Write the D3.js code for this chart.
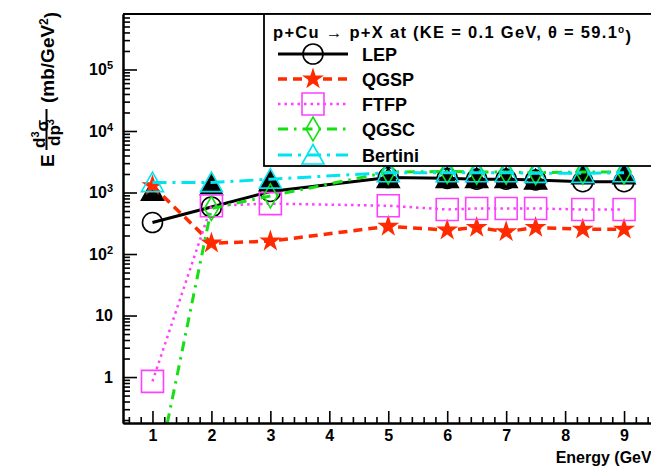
<!DOCTYPE html>
<html>
<head>
<meta charset="utf-8">
<script src="https://cdn.jsdelivr.net/npm/d3@7/dist/d3.min.js"></script>
<style>
  body { margin: 0; background: #fff; }
  svg { display: block; font-family: 'Liberation Sans', Arial, sans-serif; font-weight: bold; }
</style>
</head>
<body>
<div id="chart"></div>
<script>
// Data
var energy       = [1, 2, 3, 5, 6, 6.5, 7, 7.5, 8.3, 9];
var data_vals    = [1050, 1300, 1500, 1700, 1700, 1700, 1700, 1600, 1950, 1950];
var lep_vals     = [325, 580, 1040, 1750, 1700, 1650, 1650, 1600, 1500, 1500];
var qgsp_vals    = [1290, 150, 162, 282, 245, 270, 230, 270, 253, 253];
var ftfp_vals    = [0.85, 610, 660, 610, 530, 550, 550, 550, 530, 530];
var qgsc_vals    = [0.012, 550, 880, 2150, 2200, 2150, 2150, 2100, 2150, 2150];
var bertini_vals = [1450, 1450, 1650, 2100, 2100, 2100, 2100, 2050, 2050, 2100];

var x_ticks      = [1, 2, 3, 4, 5, 6, 7, 8, 9];
var y_ticks      = [1, 10, 100, 1000, 10000, 100000];
var y_tick_base  = ['1', '10', '10', '10', '10', '10'];
var y_tick_exp   = ['', '', '2', '3', '4', '5'];

var series_names = ['LEP', 'QGSP', 'FTFP', 'QGSC', 'Bertini'];
var title_text   = 'p+Cu \u2192 p+X at (KE = 0.1 GeV, \u03b8 =  59.1';

// Chart params
var width  = 651;
var height = 470;
var left   = 123;
var top_y  = 14;
var bottom = 423;
var right  = 683;

var tri_path  = 'M0,-10.5L11,9L-11,9Z';
var diam_path = 'M0,-12L7,0L0,12L-7,0Z';

var svg = d3.select('#chart')
    .append('svg')
    .attr('width', width)
    .attr('height', height);

// Scales
var x_scale = d3.scaleLinear()
    .domain([0.5, 10])
    .range([left, right]);

var y_scale = d3.scaleLog()
    .domain([0.179, 7.98e5])
    .range([bottom, top_y]);

svg.append('clipPath')
    .attr('id', 'plot-clip')
    .append('rect')
    .attr('x', left)
    .attr('y', top_y)
    .attr('width', right - left)
    .attr('height', bottom - top_y);

// Series
var series = [
    {vals: data_vals, color: '#000', width: 0, dash: null, marker: 'tri', fill: '#000'},
    {vals: lep_vals, color: '#000', width: 3, dash: null, marker: 'circle', fill: 'none'},
    {vals: qgsp_vals, color: '#ff2a00', width: 3.5, dash: '9,6', marker: 'star', fill: '#ff2a00'},
    {vals: ftfp_vals, color: '#ff40ff', width: 2.5, dash: '2.5,4', marker: 'square', fill: 'none'},
    {vals: qgsc_vals, color: '#14e014', width: 3, dash: '10,6,2.5,6', marker: 'diamond', fill: 'none'},
    {vals: bertini_vals, color: '#00e4f0', width: 3, dash: '14,6,3,6', marker: 'tri', fill: 'none'}
];

function marker_path(m) {
    if (m === 'tri') return tri_path;
    if (m === 'diamond') return diam_path;
    if (m === 'circle') return d3.symbol(d3.symbolCircle, Math.PI * 100)();
    if (m === 'star') return d3.symbol(d3.symbolStar, 150)();
    return d3.symbol(d3.symbolSquare, 22 * 22)();
}

var line = d3.line()
    .x(function(d) { return x_scale(d[0]); })
    .y(function(d) { return y_scale(d[1]); });

var plot = svg.append('g').attr('clip-path', 'url(#plot-clip)');

series.forEach(function(s) {
    var pts = energy.map(function(e, i) { return [e, s.vals[i]]; });
    if (s.width > 0) {
        plot.append('path')
            .datum(pts)
            .attr('d', line)
            .attr('fill', 'none')
            .attr('stroke', s.color)
            .attr('stroke-width', s.width)
            .attr('stroke-dasharray', s.dash);
    }
    plot.selectAll(null)
        .data(pts)
        .enter()
        .append('path')
        .attr('d', marker_path(s.marker))
        .attr('transform', function(d) {
            return 'translate(' + x_scale(d[0]) + ',' + y_scale(d[1]) + ')';
        })
        .attr('fill', s.fill)
        .attr('stroke', s.marker === 'star' ? 'none' : s.color)
        .attr('stroke-width', 1.6);
});

// Frame
svg.append('line')
    .attr('x1', left).attr('x2', width)
    .attr('y1', top_y).attr('y2', top_y)
    .attr('stroke', '#000').attr('stroke-width', 2);

// Axes
var minor_x = d3.range(0.6, 10, 0.2).filter(function(v) {
    return Math.abs(v - Math.round(v)) > 0.01;
});
svg.append('g')
    .attr('transform', 'translate(0,' + bottom + ')')
    .call(d3.axisBottom(x_scale).tickValues(minor_x).tickSizeInner(-6).tickSizeOuter(0).tickFormat(''));

var x_axis = svg.append('g')
    .attr('transform', 'translate(0,' + bottom + ')')
    .call(d3.axisBottom(x_scale).tickValues(x_ticks).tickSizeInner(-12).tickSizeOuter(0).tickPadding(7));
x_axis.selectAll('text').style('font-size', '16px').attr('fill', '#000');

var minor_y = [];
[0.1, 1, 10, 100, 1000, 10000, 100000].forEach(function(dec) {
    for (var k = 2; k <= 9; k++) {
        var v = dec * k;
        if (v > 0.179 && v < 7.98e5) minor_y.push(v);
    }
});
svg.append('g')
    .attr('transform', 'translate(' + left + ',0)')
    .call(d3.axisLeft(y_scale).tickValues(minor_y).tickSizeInner(-7).tickSizeOuter(0).tickFormat(''));

var y_axis = svg.append('g')
    .attr('transform', 'translate(' + left + ',0)')
    .call(d3.axisLeft(y_scale).tickValues(y_ticks).tickSizeInner(-14).tickSizeOuter(0).tickPadding(10)
        .tickFormat(function(d, i) { return y_tick_base[i]; }));
y_axis.selectAll('text')
    .style('font-size', '16px')
    .attr('fill', '#000')
    .each(function(d, i) {
        if (y_tick_exp[i]) {
            d3.select(this).append('tspan')
                .attr('dy', '-0.55em')
                .style('font-size', '11px')
                .text(y_tick_exp[i]);
        }
    });

svg.selectAll('.domain').attr('stroke', '#000').attr('stroke-width', 2);
svg.selectAll('.tick line').attr('stroke', '#000').attr('stroke-width', 1.6);

// Axis titles (x title is cut at the right edge, as in the original)
svg.append('text')
    .attr('x', 657)
    .attr('y', 463)
    .attr('text-anchor', 'end')
    .style('font-size', '16px')
    .text('Energy (GeV)');

var yt = svg.append('g')
    .attr('transform', 'translate(46,167) rotate(-90)');
yt.append('text').attr('x', 0).attr('y', 7.5).style('font-size', '19px').text('E');
var num = yt.append('text').attr('x', 19).attr('y', -1.5).style('font-size', '17px').text('d');
num.append('tspan').attr('dy', '-0.5em').style('font-size', '11px').text('3');
num.append('tspan').attr('dy', '0.5em').text('\u03c3');
yt.append('line')
    .attr('x1', 17).attr('x2', 58)
    .attr('y1', 0.5).attr('y2', 0.5)
    .attr('stroke', '#000').attr('stroke-width', 2);
var den = yt.append('text').attr('x', 21).attr('y', 13.5).style('font-size', '17px').text('dp');
den.append('tspan').attr('dy', '-0.5em').style('font-size', '11px').text('3');
var unit = yt.append('text').attr('x', 64).attr('y', 7.5).style('font-size', '19px').text('(mb/GeV');
unit.append('tspan').attr('dy', '-0.5em').style('font-size', '12px').text('2');
unit.append('tspan').attr('dy', '0.5em').text(')');

// Legend
var legend = svg.append('g');
legend.append('rect')
    .attr('x', 264).attr('y', top_y)
    .attr('width', 500).attr('height', 152)
    .attr('fill', '#fff')
    .attr('stroke', '#000').attr('stroke-width', 1.8);

var title = legend.append('text')
    .attr('x', 273).attr('y', 38)
    .attr('textLength', 358)
    .attr('lengthAdjust', 'spacing')
    .style('font-size', '16.5px')
    .text(title_text);
title.append('tspan').attr('dy', '-0.55em').style('font-size', '10px').text('o');
title.append('tspan').attr('dy', '0.55em').text(')');

var row_y = [54, 79, 104, 129, 155];
series.slice(1).forEach(function(s, i) {
    var y = row_y[i];
    legend.append('line')
        .attr('x1', 278).attr('x2', 348)
        .attr('y1', y).attr('y2', y)
        .attr('stroke', s.color)
        .attr('stroke-width', s.width)
        .attr('stroke-dasharray', s.dash);
    legend.append('path')
        .attr('d', marker_path(s.marker))
        .attr('transform', 'translate(313,' + y + ')')
        .attr('fill', s.fill)
        .attr('stroke', s.marker === 'star' ? 'none' : s.color)
        .attr('stroke-width', 1.6);
    legend.append('text')
        .attr('x', 362).attr('y', y + 6.5)
        .style('font-size', '18px')
        .text(series_names[i]);
});
</script>
</body>
</html>
